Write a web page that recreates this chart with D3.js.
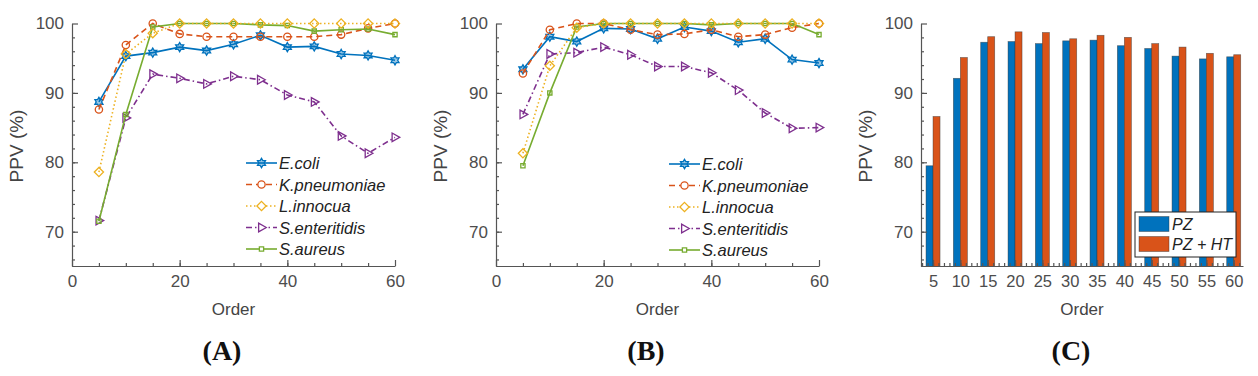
<!DOCTYPE html>
<html>
<head>
<meta charset="utf-8">
<script src="https://cdn.jsdelivr.net/npm/d3@7"></script>
<style>
body { margin: 0; background: #fff; }
svg { display: block; }
.tick text { font-family: "Liberation Sans", Arial, sans-serif; }
</style>
</head>
<body>
<svg width="1258" height="376"></svg>
<script>
// data
var orders = [5, 10, 15, 20, 25, 30, 35, 40, 45, 50, 55, 60];
var speciesNames = ["E.coli", "K.pneumoniae", "L.innocua", "S.enteritidis", "S.aureus"];

// panel A
var ecoliA = [88.7, 95.3, 95.8, 96.6, 96.1, 97.0, 98.3, 96.6, 96.7, 95.6, 95.4, 94.7];
var kpneuA = [87.6, 96.9, 100, 98.5, 98.1, 98.1, 98.1, 98.1, 98.1, 98.4, 99.3, 100];
var linnoA = [78.6, 95.6, 98.6, 100, 100, 100, 100, 100, 100, 100, 100, 100];
var sentA  = [71.6, 86.4, 92.7, 92.1, 91.3, 92.4, 91.9, 89.7, 88.7, 83.8, 81.3, 83.6];
var saurA  = [71.5, 86.9, 99.5, 100, 100, 100, 99.8, 99.7, 98.9, 99.1, 99.2, 98.4];

// panel B
var ecoliB = [93.4, 98.1, 97.4, 99.3, 99.2, 97.8, 99.5, 98.9, 97.3, 97.8, 94.8, 94.3];
var kpneuB = [92.8, 99.1, 100, 100, 99.1, 98.4, 98.5, 99.1, 98.1, 98.4, 99.4, 100];
var linnoB = [81.3, 93.9, 99.4, 100, 100, 100, 100, 100, 100, 100, 100, 100];
var sentB  = [86.9, 95.6, 95.8, 96.6, 95.5, 93.8, 93.8, 92.9, 90.4, 87.1, 84.9, 85.0];
var saurB  = [79.5, 90.0, 99.5, 100, 100, 100, 100, 99.8, 100, 100, 100, 98.4];

// panel C
var barNames = ["PZ", "PZ + HT"];
var pz   = [79.5, 92.1, 97.3, 97.4, 97.1, 97.5, 97.6, 96.8, 96.4, 95.3, 94.9, 95.2];
var pzht = [86.6, 95.1, 98.1, 98.8, 98.7, 97.8, 98.3, 98.0, 97.1, 96.6, 95.7, 95.5];

var colors = ["#0072BD", "#D95319", "#EDB120", "#7E2F8E", "#77AC30"];
var dashes = [null, "6,4", "1.5,2.5", "6,3,1.5,3", null];
var axisColor = "#555";

var hexagram = {
  draw: function(ctx, size) {
    var r = Math.sqrt(size) * 0.75, ri = r * 0.58;
    for (var i = 0; i < 12; i++) {
      var a = -Math.PI / 2 + i * Math.PI / 6, rr = i % 2 ? ri : r;
      if (i == 0) ctx.moveTo(rr * Math.cos(a), rr * Math.sin(a));
      else ctx.lineTo(rr * Math.cos(a), rr * Math.sin(a));
    }
    ctx.closePath();
  }
};
var triRight = {
  draw: function(ctx, size) {
    var r = Math.sqrt(size) * 0.62;
    ctx.moveTo(r, 0);
    ctx.lineTo(-r * 0.6, -r * 0.9);
    ctx.lineTo(-r * 0.6, r * 0.9);
    ctx.closePath();
  }
};
var diamondSq = {
  draw: function(ctx, size) {
    var r = Math.sqrt(size) * 0.62;
    ctx.moveTo(0, -r); ctx.lineTo(r, 0); ctx.lineTo(0, r); ctx.lineTo(-r, 0); ctx.closePath();
  }
};
var symbols = [
  d3.symbol(hexagram, 38),
  d3.symbol(d3.symbolCircle, 42),
  d3.symbol(diamondSq, 55),
  d3.symbol(triRight, 60),
  d3.symbol(d3.symbolSquare, 18)
];

var svg = d3.select("svg");
var y = d3.scaleLinear().domain([65, 100]).range([266.4, 23.5]);

function styleAxis(g) {
  g.selectAll("path, line").attr("stroke", axisColor).attr("stroke-width", 1.2);
  g.selectAll("text").attr("fill", "#4d4d4d").attr("font-size", 17);
}

function drawFrame(g, x, x0, x1, xMajor, xMinor, xFont) {
  var ax = g.append("g").attr("transform", "translate(0,266)")
    .call(d3.axisBottom(x).tickValues(xMajor).tickSize(-6).tickPadding(9).tickSizeOuter(0).tickFormat(d3.format("d")));
  styleAxis(ax);
  ax.selectAll("text").attr("font-size", xFont);
  var axm = g.append("g").attr("transform", "translate(0,266)")
    .call(d3.axisBottom(x).tickValues(xMinor).tickSize(-3).tickSizeOuter(0).tickFormat(""));
  styleAxis(axm);
  axm.select(".domain").remove();

  var ay = g.append("g").attr("transform", "translate(" + x0 + ",0)")
    .call(d3.axisLeft(y).tickValues([70, 80, 90, 100]).tickSize(-6).tickPadding(8).tickSizeOuter(0));
  styleAxis(ay);
  var aym = g.append("g").attr("transform", "translate(" + x0 + ",0)")
    .call(d3.axisLeft(y).tickValues(d3.range(66, 100, 2)).tickSize(-3).tickFormat(""));
  styleAxis(aym);
  aym.select(".domain").remove();

  g.append("text")
    .attr("transform", "translate(" + (x0 - 49) + "," + 146 + ") rotate(-90)")
    .attr("text-anchor", "middle")
    .attr("font-family", "Liberation Sans, Arial, sans-serif")
    .attr("font-size", 19).attr("fill", "#444")
    .text("PPV (%)");
  g.append("text")
    .attr("x", (x0 + x1) / 2).attr("y", 315)
    .attr("text-anchor", "middle")
    .attr("font-family", "Liberation Sans, Arial, sans-serif")
    .attr("font-size", 17).attr("fill", "#444")
    .text("Order");
}

function drawLinePanel(x0, series, legX, legY, letter) {
  var g = svg.append("g");
  var x = d3.scaleLinear().domain([0, 60]).range([x0, x0 + 323]);
  drawFrame(g, x, x0, x0 + 323, [0, 20, 40, 60], d3.range(5, 60, 5), 17);

  var line = d3.line().x(function(d, i) { return x(orders[i]); }).y(function(d) { return y(d); });
  var order = [3, 0, 1, 4, 2];
  order.forEach(function(k) {
    g.append("path")
      .datum(series[k])
      .attr("d", line)
      .attr("fill", "none")
      .attr("stroke", colors[k])
      .attr("stroke-width", 1.6)
      .attr("stroke-dasharray", dashes[k]);
    g.selectAll(".m" + k)
      .data(series[k])
      .enter().append("path")
      .attr("transform", function(d, i) { return "translate(" + x(orders[i]) + "," + y(d) + ")"; })
      .attr("d", symbols[k])
      .attr("fill", k == 0 ? colors[k] : "none")
      .attr("fill-opacity", k == 0 ? 0.4 : 1)
      .attr("stroke", colors[k])
      .attr("stroke-width", 1.3);
  });

  // legend
  speciesNames.forEach(function(name, k) {
    var ly = legY + k * 21.5;
    g.append("line")
      .attr("x1", legX).attr("x2", legX + 31).attr("y1", ly).attr("y2", ly)
      .attr("stroke", colors[k]).attr("stroke-width", 1.6)
      .attr("stroke-dasharray", dashes[k]);
    g.append("path")
      .attr("transform", "translate(" + (legX + 15.5) + "," + ly + ")")
      .attr("d", symbols[k])
      .attr("fill", k == 0 ? colors[k] : "#fff")
      .attr("fill-opacity", k == 0 ? 0.4 : 1)
      .attr("stroke", colors[k]).attr("stroke-width", 1.3);
    g.append("text")
      .attr("x", legX + 33).attr("y", ly + 6)
      .attr("font-family", "Liberation Sans, Arial, sans-serif")
      .attr("font-style", "italic").attr("font-size", 16.5).attr("fill", "#222")
      .text(name);
  });

  g.append("text")
    .attr("x", x0 + 150).attr("y", 360)
    .attr("text-anchor", "middle")
    .attr("font-family", "Liberation Serif, Times New Roman, serif")
    .attr("font-weight", "bold").attr("font-size", 28).attr("fill", "#111")
    .text(letter);
}

drawLinePanel(72, [ecoliA, kpneuA, linnoA, sentA, saurA], 246, 163, "(A)");
drawLinePanel(496, [ecoliB, kpneuB, linnoB, sentB, saurB], 669, 164, "(B)");

// panel C, grouped bars
(function() {
  var x0 = 921, x1 = 1243;
  var g = svg.append("g");
  var x = d3.scaleLinear().domain([2.8, 61.7]).range([x0, x1]);
  var bw = 7;
  var barData = [pz, pzht];
  var barColors = ["#0072BD", "#D95319"];
  g.append("clipPath").attr("id", "clipC")
    .append("rect").attr("x", x0).attr("y", 0).attr("width", x1 - x0).attr("height", 266);
  var bars = g.append("g").attr("clip-path", "url(#clipC)");
  barData.forEach(function(vals, s) {
    bars.selectAll(".b" + s)
      .data(vals)
      .enter().append("rect")
      .attr("x", function(d, i) { return x(orders[i]) + (s == 0 ? -bw : 0); })
      .attr("y", function(d) { return y(d); })
      .attr("width", bw)
      .attr("height", function(d) { return y(65) - y(d) + 2; })
      .attr("fill", barColors[s])
      .attr("stroke", "#333").attr("stroke-opacity", 0.6).attr("stroke-width", 0.7);
  });
  drawFrame(g, x, x0, x1, orders, d3.range(3, 62, 1), 16.5);

  // legend box
  var lg = g.append("g").attr("transform", "translate(1135,212)");
  lg.append("rect").attr("width", 101).attr("height", 45)
    .attr("fill", "#fff").attr("stroke", "#222").attr("stroke-width", 1);
  barNames.forEach(function(name, s) {
    lg.append("rect")
      .attr("x", 4).attr("y", 4.5 + s * 20).attr("width", 30).attr("height", 15)
      .attr("fill", barColors[s]).attr("stroke", "#333").attr("stroke-opacity", 0.6).attr("stroke-width", 0.7);
    lg.append("text")
      .attr("x", 37).attr("y", 17.5 + s * 20)
      .attr("font-family", "Liberation Sans, Arial, sans-serif")
      .attr("font-style", "italic").attr("font-size", 16).attr("fill", "#222")
      .text(name);
  });

  g.append("text")
    .attr("x", 1071).attr("y", 360)
    .attr("text-anchor", "middle")
    .attr("font-family", "Liberation Serif, Times New Roman, serif")
    .attr("font-weight", "bold").attr("font-size", 28).attr("fill", "#111")
    .text("(C)");
})();
</script>
</body>
</html>
